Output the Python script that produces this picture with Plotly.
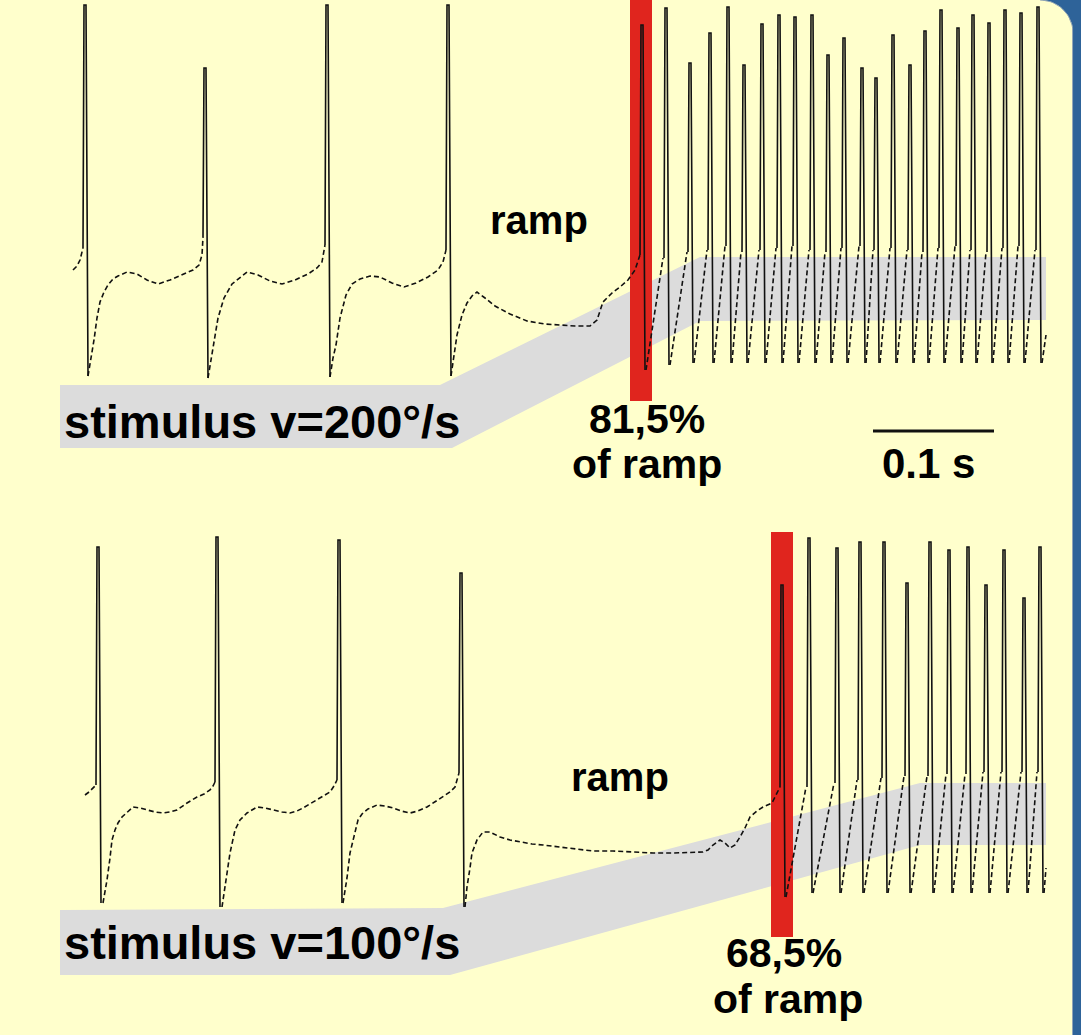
import numpy as np
import plotly.graph_objects as go

W, H = 1081, 1035
BG = "#FFFFCC"
BLUE = "#2E6399"
GRAY = "#DCDCDC"
RED = "#E0251E"
INK = "#111111"
FONT = "Liberation Sans, Arial, sans-serif"

# ---------------- data (pixel units) ----------------
# top recording (stimulus v = 200 deg/s)
TOP_SPIKE_X = [84, 204, 326, 447, 641, 665, 689, 709, 727, 743, 761, 778, 794, 811,
               827, 843, 861, 875, 892, 909, 924, 940, 957, 972, 988, 1004, 1020, 1037]
TOP_SPIKE_PEAK = [5, 68, 5, 5, 25, 8, 63, 33, 7, 65, 24, 15, 17, 15,
                  55, 38, 68, 78, 35, 65, 31, 10, 28, 15, 23, 10, 13, 7]
TOP_SPIKE_THR = [248, 237, 245, 250, 255, 258, 252, 250, 246, 252, 250, 248, 246, 250,
                 252, 248, 246, 250, 248, 250, 252, 248, 246, 250, 252, 248, 246, 250]
TOP_SPIKE_TROUGH = [376, 378, 377, 376, 370, 365, 363, 363, 363, 363, 363, 363, 363, 363,
                    363, 363, 363, 363, 363, 363, 363, 363, 363, 363, 363, 363, 363, 363]
TOP_TRACE_END = (1046, 335)
TOP_SLOW = [
    ([73, 77, 80, 83], [270, 266, 260, 248]),
    ([88, 91, 94, 97, 100, 104, 108, 113, 118, 127, 137, 147, 158, 170, 182, 193, 199, 202, 203],
     [376, 360, 340, 318, 302, 292, 285, 279, 276, 272, 274, 280, 284, 280, 275, 270, 265, 255, 237]),
    ([208, 211, 214, 218, 224, 232, 247, 258, 270, 282, 295, 308, 317, 322, 325],
     [378, 360, 345, 318, 298, 284, 272, 275, 281, 284, 280, 274, 268, 262, 245]),
    ([330, 333, 336, 340, 346, 352, 360, 370, 380, 392, 404, 416, 428, 438, 443, 446],
     [377, 358, 345, 318, 295, 284, 279, 276, 277, 283, 287, 283, 277, 270, 262, 250]),
    ([451, 454, 457, 462, 467, 472, 477, 485, 495, 510, 527, 545, 560, 575, 590, 597, 603,
      612, 620, 628, 635, 640],
     [376, 355, 335, 315, 303, 296, 292, 298, 306, 314, 321, 324, 325, 326, 326, 320, 302,
      293, 287, 280, 270, 255]),
]

# bottom recording (stimulus v = 100 deg/s)
BOT_SPIKE_X = [97, 216, 338, 460, 781, 808, 836, 859, 883, 906, 929, 948, 967, 985, 1003, 1023, 1039]
BOT_SPIKE_PEAK = [547, 537, 540, 573, 585, 538, 548, 542, 542, 583, 542, 550, 547, 585, 550, 598, 547]
BOT_SPIKE_THR = [785, 782, 780, 773, 787, 787, 783, 780, 778, 776, 776, 774, 774, 772, 772, 772, 772]
BOT_SPIKE_TROUGH = [903, 907, 903, 907, 897, 893, 893, 893, 893, 893, 893, 893, 893, 893, 893, 893, 893]
BOT_TRACE_END = (1046, 868)
BOT_SLOW = [
    ([85, 89, 96], [795, 792, 785]),
    ([103, 107, 110, 112, 115, 118, 122, 127, 133, 140, 147, 155, 163, 170, 177, 187, 197, 204,
      210, 213, 215],
     [903, 880, 858, 840, 830, 823, 817, 812, 807, 808, 810, 812, 813, 812, 810, 803, 797, 794,
      790, 786, 782]),
    ([222, 226, 230, 235, 240, 247, 257, 265, 273, 282, 290, 297, 303, 310, 317, 324, 330, 334, 337],
     [907, 880, 853, 830, 820, 813, 807, 808, 810, 812, 813, 811, 808, 804, 800, 796, 792, 786, 780]),
    ([343, 347, 350, 354, 358, 362, 368, 377, 385, 393, 401, 410, 418, 427, 435, 443, 450, 455, 459],
     [903, 878, 853, 835, 820, 814, 809, 805, 806, 808, 811, 813, 811, 807, 802, 797, 792, 787, 773]),
    ([465, 467, 470, 472, 477, 483, 490, 500, 510, 520, 532, 543, 558, 573, 593, 613, 633, 653,
      673, 693, 703, 708, 713, 720, 725, 730, 735, 740, 745, 750, 757, 763, 768, 772, 776, 780],
     [907, 887, 868, 853, 840, 832, 832, 837, 840, 842, 844, 845, 847, 849, 851, 851, 852, 853,
      853, 852, 852, 850, 845, 840, 843, 848, 845, 837, 828, 817, 811, 807, 805, 803, 795, 787]),
]

# stimulus ramp bands (grey)
TOP_RAMP_X = [60, 440, 700, 1046, 1046, 700, 452, 60]
TOP_RAMP_Y = [385, 385, 257, 257, 320, 321, 448, 448]
BOT_RAMP_X = [60, 443, 920, 1046, 1046, 920, 450, 60]
BOT_RAMP_Y = [910, 908, 783, 783, 845, 845, 975, 975]

# red markers (x0, x1, y_top, y_bottom)
TOP_MARK = (630, 652, 0, 401)
BOT_MARK = (771, 793, 532, 937)

# 0.1 s scale bar
SCALE_X = [873, 994]
SCALE_Y = 431

fig = go.Figure()


def poly(xs, ys, color):
    fig.add_trace(go.Scatter(x=list(xs) + [xs[0]], y=list(ys) + [ys[0]], mode="lines",
                             fill="toself", fillcolor=color, line=dict(width=0, color=color),
                             hoverinfo="skip"))


# border (blue frame with rounded corner)
ang = np.linspace(0, np.pi / 2, 20)
cx, cy, r = 1040, 33, 33
arc_x = list(cx + r * np.sin(ang))
arc_y = list(cy - r * np.cos(ang))
bx = [1040, W + 2, W + 2, 1073, 1073] + arc_x[::-1]
by = [-2, -2, H + 2, H + 2, 33] + arc_y[::-1]
poly(bx, by, BLUE)
fig.add_trace(go.Scatter(x=[1072.5, 1072.5] + arc_x[::-1], y=[H + 2, 33] + arc_y[::-1],
                         mode="lines", line=dict(color="#8FA3B5", width=1), hoverinfo="skip"))

# grey ramps
poly(TOP_RAMP_X, TOP_RAMP_Y, GRAY)
poly(BOT_RAMP_X, BOT_RAMP_Y, GRAY)

# red markers
for (x0, x1, y0, y1) in (TOP_MARK, BOT_MARK):
    poly([x0, x1, x1, x0], [y0, y0, y1, y1], RED)


def recording(sx, peak, thr, trough, slow, end):
    solid_x, solid_y, dash_x, dash_y = [], [], [], []
    for i in range(len(sx)):
        x = sx[i]
        solid_x += [x - 1, x, x + 2, x + 4, None]
        solid_y += [thr[i], peak[i], peak[i], trough[i], None]
    for xs, ys in slow:
        dash_x += list(xs) + [None]
        dash_y += list(ys) + [None]
    nslow = len(slow) - 1
    for i in range(nslow, len(sx)):
        if i + 1 < len(sx):
            nx, ny = sx[i + 1] - 2, thr[i + 1]
        else:
            nx, ny = end
        dash_x += [sx[i] + 5, nx, None]
        dash_y += [trough[i], ny, None]
    fig.add_trace(go.Scatter(x=dash_x, y=dash_y, mode="lines",
                             line=dict(color=INK, width=1.6, dash="5px,3px"),
                             hoverinfo="skip"))
    fig.add_trace(go.Scatter(x=solid_x, y=solid_y, mode="lines",
                             line=dict(color=INK, width=1.6), hoverinfo="skip"))


recording(TOP_SPIKE_X, TOP_SPIKE_PEAK, TOP_SPIKE_THR, TOP_SPIKE_TROUGH, TOP_SLOW, TOP_TRACE_END)
recording(BOT_SPIKE_X, BOT_SPIKE_PEAK, BOT_SPIKE_THR, BOT_SPIKE_TROUGH, BOT_SLOW, BOT_TRACE_END)

# scale bar
fig.add_trace(go.Scatter(x=SCALE_X, y=[SCALE_Y, SCALE_Y], mode="lines",
                         line=dict(color=INK, width=3), hoverinfo="skip"))


def label(text, x, y, size, anchor="center"):
    fig.add_annotation(x=x, y=y, xref="x", yref="y", text=text, showarrow=False,
                       xanchor=anchor, yanchor="middle",
                       font=dict(family=FONT, size=size, color="#000000", weight="bold"))


label("stimulus v=200°/s", 62, 421, 47, "left")
label("stimulus v=100°/s", 62, 942, 47, "left")
label("ramp", 539, 220, 40)
label("ramp", 620, 777, 40)
label("81,5%", 647, 419, 41)
label("of ramp", 647, 464, 41)
label("0.1 s", 928, 463, 42)
label("68,5%", 784, 953, 41)
label("of ramp", 788, 999, 41)

fig.update_layout(
    width=W, height=H, margin=dict(l=0, r=0, t=0, b=0),
    paper_bgcolor=BG, plot_bgcolor=BG, showlegend=False,
    xaxis=dict(range=[0, W], visible=False, fixedrange=True),
    yaxis=dict(range=[H, 0], visible=False, fixedrange=True),
)

fig.write_html(
    "out.html",
    config={"displayModeBar": False},
    post_script="document.body.style.margin='0';document.body.style.background='%s';"
                "document.documentElement.style.overflow='hidden';" % BG,
)
